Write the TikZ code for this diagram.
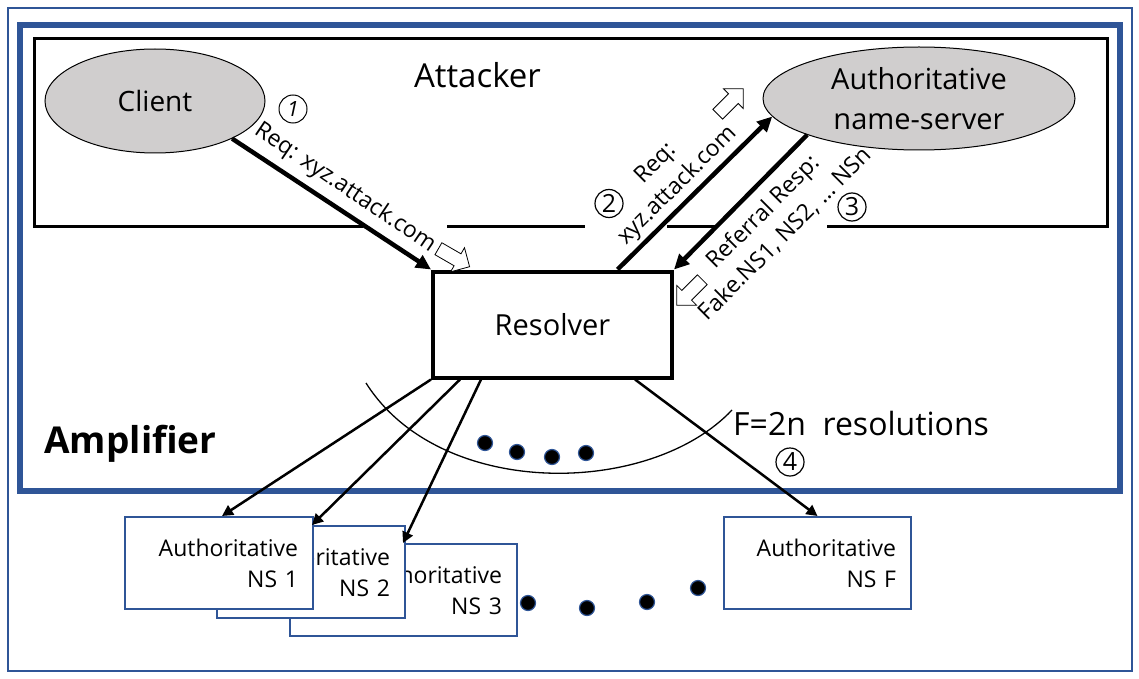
\documentclass[tikz,border=0pt]{standalone}
\usepackage{fontspec}
\setmainfont{Open Sans}
\usetikzlibrary{arrows.meta,shapes.geometric,shapes.arrows}
\definecolor{fblue}{RGB}{47,85,151}
\definecolor{egray}{RGB}{208,206,206}
\newcommand{\fsz}[2]{\fontsize{#1}{#2}\selectfont}
\begin{document}
\begin{tikzpicture}[x=1pt,y=-1pt,
  ell/.style={ellipse,draw=black,line width=1pt,fill=egray,inner sep=0pt},
  bigarr/.style={line width=4.5pt,-{Triangle[length=15pt,width=14pt]}},
  smallarr/.style={line width=2.5pt,-{Triangle[length=11pt,width=11pt]}},
  nsbox/.style={draw=fblue,line width=2pt,fill=white,minimum height=92pt,inner xsep=15pt,inner ysep=0pt,align=right,font=\fsz{23}{31}},
  hollow/.style={single arrow,draw=black,fill=white,line width=0.8pt,minimum height=36pt,inner sep=6.5pt,single arrow head extend=7pt},
  num/.style={circle,draw=black,line width=1.2pt,minimum size=28pt,inner sep=0pt,font=\fsz{25}{25}},
  lab/.style={font=\fsz{23}{31},align=center,inner sep=0pt},
  dot/.style={circle,fill=black,draw=fblue,line width=1.2pt,minimum size=15pt,inner sep=0pt}
]
\useasboundingbox (0,0) rectangle (1139,679);
\fill[white] (0,0) rectangle (1139,679);
% frames
\draw[fblue,line width=2pt] (7.5,8.5) rectangle (1132,671);
\draw[fblue,line width=6pt] (20,25) rectangle (1120,491);
\draw[line width=3pt] (363,226) -- (34.5,226) -- (34.5,38.5) -- (1107,38.5) -- (1107,226) -- (827,226);
\draw[line width=3pt] (447,226) -- (585,226);
\draw[line width=3pt] (667,226) -- (717,226);
% main nodes
\node[ell,minimum width=220pt,minimum height=104pt,font=\fsz{28}{34}] (client) at (155,101) {Client};
\node[ell,minimum width=312pt,minimum height=103pt,align=center,font=\fsz{29}{40}] (ns) at (919,98.5) {Authoritative\\name-server};
\node[font=\fsz{33}{40},anchor=base,inner sep=0pt] (att) at (477.5,88) {Attacker};
\node[draw,line width=4pt,minimum width=239pt,minimum height=106pt,font=\fsz{29}{34}] (res) at (552.5,324.5) {Resolver};
\node[font=\fsz{37}{40}\bfseries,anchor=base,inner sep=0pt] (amp) at (130.5,453) {Amplifier};
\node[font=\fsz{32}{36},anchor=base west,inner sep=0pt] (fres) at (733,435) {F=2n\ \ resolutions};
% labels
\node[lab,rotate=-34] (l1) at (345,188) {Req: xyz.attack.com};
\node[lab,rotate=45] (l2) at (667,175) {Req:\\xyz.attack.com};
\node[lab,rotate=45] (l3) at (774,223) {Referral Resp:\\Fake.NS1, NS2, … NSn};
% step numbers
\node[num,line width=1pt,font=\fsz{21}{21}\itshape] (n1) at (293,109) {1};
\node[num] (n2) at (609,203.5) {2};
\node[num] (n3) at (852,207) {3};
\node[num] (n4) at (790,462) {4};
% hollow direction arrows
\node[hollow,rotate=-30] (h1) at (451,256) {};
\node[hollow,rotate=45] (h2) at (728,104) {};
\node[hollow,rotate=225] (h3) at (692,290) {};
% arc
\draw[line width=1.3pt] (366,383) .. controls (440,500) and (650,497) .. (732,410);
% NS boxes
\node[nsbox,minimum width=227pt,text width=197pt] (ns3) at (403.5,590) {Authoritative\\NS 3};
\node[nsbox,minimum width=188pt,text width=158pt] (ns2) at (311,572) {Authoritative\\NS 2};
\node[nsbox,minimum width=188pt,text width=158pt] (ns1) at (219,563) {Authoritative\\NS 1};
\node[nsbox,minimum width=187pt,text width=157pt] (nsf) at (817.5,563) {Authoritative\\NS F};
% arrows
\draw[bigarr] (client.-26) -- (res.north west);
\draw[bigarr] ([xshift=65pt]res.north) -- (ns.187);
\draw[bigarr] (ns.198.5) -- (res.north east);
\draw[smallarr] (res.south west) -- ([xshift=3pt]ns1.north);
\draw[smallarr] ([xshift=29pt]res.south west) -- ([xshift=96pt]ns2.north west);
\draw[smallarr] ([xshift=50pt]res.south west) -- ([xshift=114pt]ns3.north west);
\draw[smallarr] ([xshift=-39pt]res.south east) -- (nsf.north);
% dots
\node[dot] (d1) at (485,443) {};
\node[dot] (d2) at (517,452) {};
\node[dot] (d3) at (552,457) {};
\node[dot] (d4) at (586,453) {};
\node[dot] (d5) at (528,603) {};
\node[dot] (d6) at (587,608) {};
\node[dot] (d7) at (647,602) {};
\node[dot] (d8) at (698,588) {};
\end{tikzpicture}
\end{document}
